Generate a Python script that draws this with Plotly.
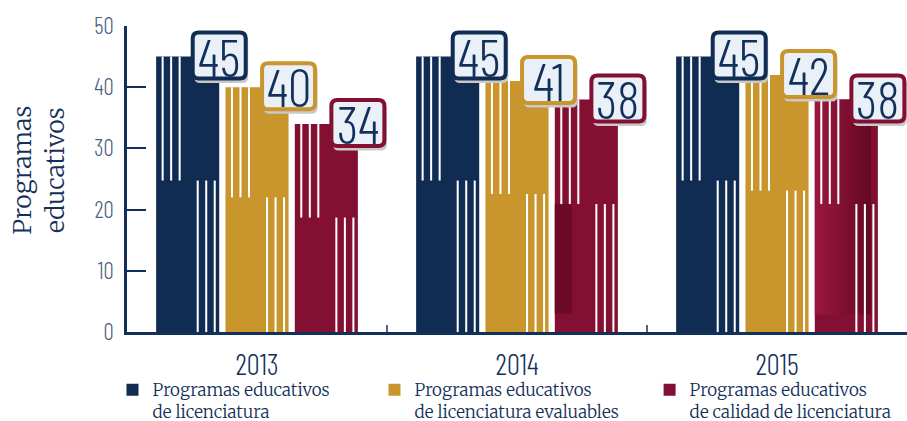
import plotly.graph_objects as go

years = ["2013", "2014", "2015"]
series_names = [
    "Programas educativos<br>de licenciatura",
    "Programas educativos<br>de licenciatura evaluables",
    "Programas educativos<br>de calidad de licenciatura",
]
licenciatura = [45, 45, 45]
evaluables = [40, 41, 42]
calidad = [34, 38, 38]
y_ticks = [0, 10, 20, 30, 40, 50]

colors = ["#102c52", "#c9952d", "#831032"]
NAVY = "#13305a"
COND = "Barlow Condensed Light, Big Shoulders Display Light, Antonio, DejaVu Sans, sans-serif"
SERIF = "Merriweather, DejaVu Serif, serif"

values = [licenciatura, evaluables, calidad]
xpos = list(range(len(years)))

BARGAP = 0.2
GROUPGAP = 0.09
n = len(values)
slot = (1 - BARGAP) / n
bw = slot * (1 - GROUPGAP)

fig = go.Figure()
legends = ["legend", "legend2", "legend3"]
for j, (name, vals) in enumerate(zip(series_names, values)):
    fig.add_trace(go.Bar(
        x=xpos, y=vals, name=name, marker=dict(color=colors[j], line=dict(width=0)),
        legend=legends[j], showlegend=True, hoverinfo="skip",
    ))


def bar_left(i, j):
    return i - (1 - BARGAP) / 2 + slot * j + (slot - bw) / 2


# shading overlays on the red bars (decorative)
for i in [1, 2]:
    v = calidad[i]
    L = bar_left(i, 2)
    if i == 1:
        xs = [L, L + 0.27 * bw, L + 0.27 * bw, L, L]
        ys = [0.08 * v, 0.08 * v, 0.55 * v, 0.55 * v, 0.08 * v]
        fig.add_trace(go.Scatter(x=xs, y=ys, fill="toself", mode="lines", line=dict(width=0),
                                 fillcolor="#6a0a27", showlegend=False, hoverinfo="skip"))
    else:
        xs = [L, L + 0.89 * bw, L + 0.89 * bw, L, L]
        ys = [0.075 * v, 0.075 * v, v, v, 0.075 * v]
        fig.add_trace(go.Scatter(x=xs, y=ys, fill="toself", mode="lines", line=dict(width=0),
                                 fillgradient=dict(type="horizontal",
                                                   colorscale=[[0, "#9c1640"], [1, "#640823"]]),
                                 showlegend=False, hoverinfo="skip"))

shapes = []
left_f = [0.087, 0.222, 0.357]
right_f = [0.643, 0.778, 0.913]
sw = 0.032
for j, vals in enumerate(values):
    for i, v in enumerate(vals):
        L = bar_left(i, j)
        split = 0.55 * v
        for f in left_f:
            shapes.append(dict(type="rect", xref="x", yref="y", x0=L + f * bw, x1=L + (f + sw) * bw,
                               y0=split, y1=v, fillcolor="white", line=dict(width=0), layer="above"))
        for f in right_f:
            shapes.append(dict(type="rect", xref="x", yref="y", x0=L + f * bw, x1=L + (f + sw) * bw,
                               y0=0, y1=split, fillcolor="white", line=dict(width=0), layer="above"))


def rrect(hw, hh, r, dx=0, dy=0):
    l, rt, b, t = -hw + dx, hw + dx, -hh + dy, hh + dy
    return (f"M{l + r},{b} L{rt - r},{b} Q{rt},{b} {rt},{b + r} L{rt},{t - r} Q{rt},{t} {rt - r},{t} "
            f"L{l + r},{t} Q{l},{t} {l},{t - r} L{l},{b + r} Q{l},{b} {l + r},{b} Z")


annotations = []
for j, vals in enumerate(values):
    for i, v in enumerate(vals):
        xr = bar_left(i, j) + bw
        shapes.append(dict(type="path", xref="x", yref="y", xsizemode="pixel", ysizemode="pixel",
                           xanchor=xr, yanchor=v, path=rrect(27, 24, 6, 2, -2.5),
                           fillcolor="#c9c9c9", line=dict(width=0), layer="above"))
        shapes.append(dict(type="path", xref="x", yref="y", xsizemode="pixel", ysizemode="pixel",
                           xanchor=xr, yanchor=v, path=rrect(26.5, 23, 6, 0, 1),
                           fillcolor="#e9f0f8", line=dict(color=colors[j], width=4), layer="above"))
        annotations.append(dict(x=xr, y=v, xref="x", yref="y", text=str(v), showarrow=False,
                                xanchor="center", yanchor="middle", yshift=1,
                                font=dict(family=COND, size=53, color=NAVY)))

# category separators
for i in range(len(years) - 1):
    shapes.append(dict(type="line", xref="x", yref="y", ysizemode="pixel", yanchor=0,
                       x0=i + 0.5, x1=i + 0.5, y0=7, y1=-36, line=dict(color=NAVY, width=1.5),
                       layer="above"))

annotations.append(dict(x=-0.113, y=0.53, xref="paper", yref="paper", text="Programas<br>educativos",
                        textangle=-90, showarrow=False, xanchor="center", yanchor="middle",
                        font=dict(family=SERIF, size=25, weight=300, color=NAVY)))

leg_common = dict(orientation="v", yanchor="top", valign="top", bgcolor="rgba(0,0,0,0)",
                  font=dict(family=SERIF, size=17, weight=300, color=NAVY),
                  itemclick=False, itemdoubleclick=False)

fig.update_layout(
    width=907, height=421,
    margin=dict(l=127, r=0, t=26, b=89, autoexpand=False),
    paper_bgcolor="white", plot_bgcolor="white",
    barmode="group", bargap=BARGAP, bargroupgap=GROUPGAP,
    xaxis=dict(range=[-0.5, 2.5], tickmode="array", tickvals=xpos, ticktext=years,
               showgrid=False, zeroline=False, showline=True, linecolor=NAVY, linewidth=2.5,
               ticks="", ticklabelstandoff=5,
               tickfont=dict(family=COND, size=29, color=NAVY)),
    yaxis=dict(range=[0, 50], tickmode="array", tickvals=y_ticks, showgrid=False, zeroline=False,
               showline=True, linecolor=NAVY, linewidth=2.5, ticks="inside", ticklen=19,
               tickwidth=1.5, tickcolor=NAVY, ticklabelstandoff=6,
               tickfont=dict(family=COND, size=23, color="#4a5f80")),
    legend=dict(x=-0.0186, y=-0.131, **leg_common),
    legend2=dict(x=0.3173, y=-0.131, **leg_common),
    legend3=dict(x=0.670, y=-0.131, **leg_common),
    shapes=shapes,
    annotations=annotations,
    showlegend=True,
)

fig.write_html("out.html", config={"displayModeBar": False},
               post_script="document.body.style.margin='0';document.body.style.overflow='hidden';")
